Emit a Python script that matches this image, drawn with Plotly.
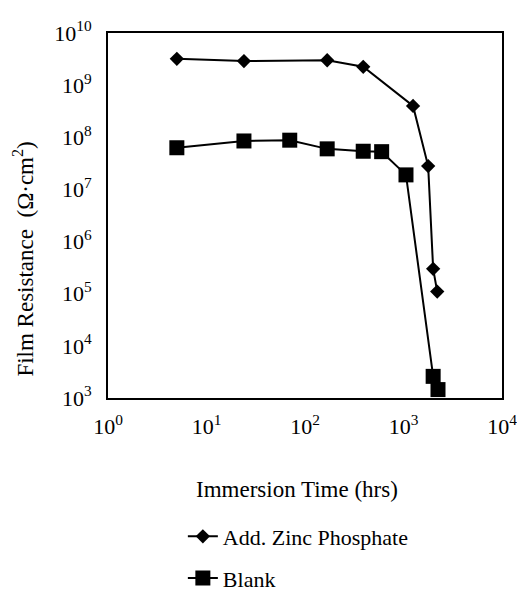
import plotly.graph_objects as go

time_zinc = [5, 24, 168, 390, 1250, 1780, 2000, 2200]
res_zinc = [3.2e9, 2.9e9, 3.0e9, 2.25e9, 4.0e8, 2.8e7, 3.0e5, 1.1e5]

time_blank = [5, 24, 70, 168, 390, 600, 1060, 2000, 2240]
res_blank = [6.3e7, 8.5e7, 8.8e7, 6.0e7, 5.4e7, 5.3e7, 1.9e7, 2.6e3, 1.45e3]

x_exponents = [0, 1, 2, 3, 4]
y_exponents = [3, 4, 5, 6, 7, 8, 9, 10]

FONT = "Liberation Serif"

fig = go.Figure()
fig.add_trace(go.Scatter(
    x=time_zinc, y=res_zinc, mode="lines+markers", name="Add. Zinc Phosphate",
    legendgroup="a",
    line=dict(color="black", width=2),
    marker=dict(symbol="diamond", size=11, color="black"),
))
fig.add_trace(go.Scatter(
    x=time_blank, y=res_blank, mode="lines+markers", name="Blank",
    legendgroup="b",
    line=dict(color="black", width=2),
    marker=dict(symbol="square", size=15, color="black"),
))

axis_common = dict(
    type="log", showgrid=False, zeroline=False,
    showline=True, linecolor="black", linewidth=2, mirror=True,
    ticks="", tickfont=dict(family=FONT, size=22, color="black"),
    ticklabeloverflow="allow", automargin=False,
)

fig.update_xaxes(
    **axis_common,
    range=[0, 4],
    tickvals=[10 ** e for e in x_exponents],
    ticktext=[f"10<sup>{e}</sup>" for e in x_exponents],
    ticklabelstandoff=8,
)
fig.update_yaxes(
    **axis_common,
    range=[3, 10],
    tickvals=[10 ** e for e in y_exponents],
    ticktext=[f"10<sup>{e}</sup>" for e in y_exponents],
    ticklabelstandoff=10,
)

fig.add_annotation(
    text="Immersion Time (hrs)", xref="paper", yref="paper",
    x=0.48, y=-0.252, showarrow=False, xanchor="center", yanchor="middle",
    font=dict(family=FONT, size=23, color="black"),
)
fig.add_annotation(
    text="Film Resistance  (Ω·cm<sup>2</sup>)", xref="paper", yref="paper",
    x=-0.215, y=0.38, showarrow=False, textangle=-90,
    xanchor="center", yanchor="middle",
    font=dict(family=FONT, size=23, color="black"),
)

fig.update_layout(
    width=517, height=593,
    margin=dict(l=108, r=15, t=33, b=195, autoexpand=False),
    paper_bgcolor="white", plot_bgcolor="white",
    showlegend=True,
    legend=dict(
        x=0.19, y=-0.322, xanchor="left", yanchor="top",
        font=dict(family=FONT, size=22, color="black"),
        traceorder="grouped", tracegroupgap=10,
        bgcolor="rgba(0,0,0,0)",
    ),
)

fig.write_html("out.html")
